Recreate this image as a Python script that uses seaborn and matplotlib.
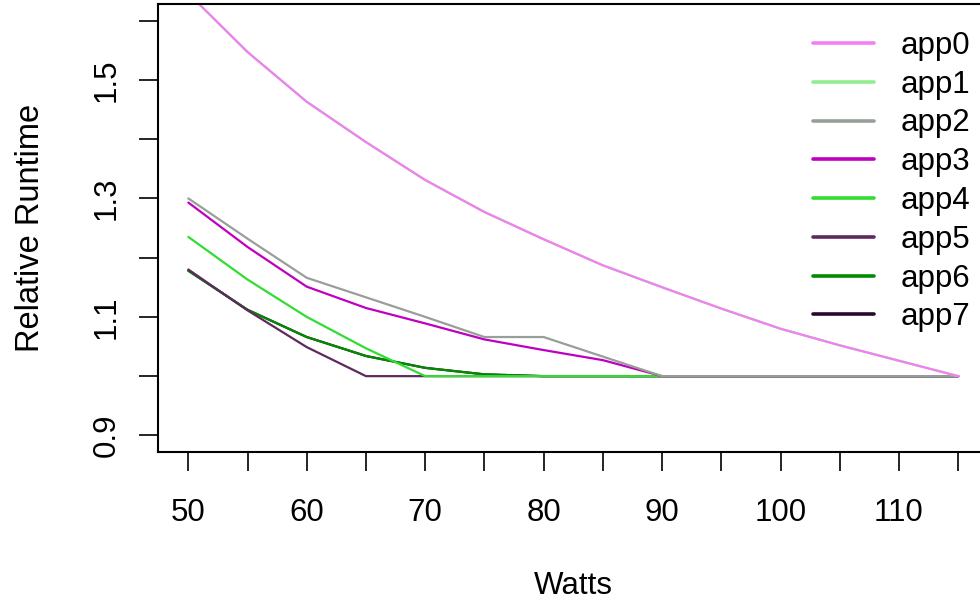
import matplotlib
matplotlib.use("Agg")
import matplotlib.pyplot as plt
from matplotlib.lines import Line2D
import seaborn as sns
import numpy as np

watts = [50, 55, 60, 65, 70, 75, 80, 85, 90, 95, 100, 105, 110, 115]
app0 = [1.646, 1.547, 1.463, 1.395, 1.331, 1.277, 1.231, 1.187, 1.150, 1.114, 1.080, 1.052, 1.026, 1.000]
app1 = [1.646, 1.547, 1.463, 1.395, 1.331, 1.277, 1.231, 1.187, 1.150, 1.114, 1.080, 1.052, 1.026, 1.000]
app2 = [1.300, 1.232, 1.166, 1.133, 1.100, 1.066, 1.066, 1.033, 1.000, 1.000, 1.000, 1.000, 1.000, 1.000]
app3 = [1.293, 1.218, 1.151, 1.115, 1.089, 1.062, 1.044, 1.027, 1.000, 1.000, 1.000, 1.000, 1.000, 1.000]
app4 = [1.235, 1.163, 1.100, 1.047, 1.000, 1.000, 1.000, 1.000, 1.000, 1.000, 1.000, 1.000, 1.000, 1.000]
app5 = [1.180, 1.111, 1.049, 1.000, 1.000, 1.000, 1.000, 1.000, 1.000, 1.000, 1.000, 1.000, 1.000, 1.000]
app6 = [1.178, 1.112, 1.066, 1.034, 1.014, 1.003, 1.000, 1.000, 1.000, 1.000, 1.000, 1.000, 1.000, 1.000]
app7 = [1.178, 1.112, 1.066, 1.034, 1.014, 1.003, 1.000, 1.000, 1.000, 1.000, 1.000, 1.000, 1.000, 1.000]

names = ["app0", "app1", "app2", "app3", "app4", "app5", "app6", "app7"]
series = [app0, app1, app2, app3, app4, app5, app6, app7]
colors = ["#F47EF4", "#90EE90", "#979F97", "#C000C0", "#32DD32", "#5E2A5E", "#008B00", "#2A0A2A"]

y_ticks = [0.9, 1.0, 1.1, 1.2, 1.3, 1.4, 1.5, 1.6]
y_labels = ["0.9", "", "1.1", "", "1.3", "", "1.5", ""]
x_ticks = [50, 55, 60, 65, 70, 75, 80, 85, 90, 95, 100, 105, 110, 115]
x_labels = ["50", "", "60", "", "70", "", "80", "", "90", "", "100", "", "110", ""]

sns.set_style("ticks", {"text.color": "black", "xtick.color": "black", "ytick.color": "black",
                        "axes.labelcolor": "black", "axes.edgecolor": "black"})
plt.rcParams["font.family"] = ["Liberation Sans", "DejaVu Sans"]

W, H = 980, 604
fig = plt.figure(figsize=(W / 100, H / 100), dpi=100)
left, right, top, bottom = 157.5, 989.0, 4.0, 452.0
ax = fig.add_axes([left / W, 1 - bottom / H, (right - left) / W, (bottom - top) / H])

# draw in reverse order (last series first)
for name, vals, col in reversed(list(zip(names, series, colors))):
    sns.lineplot(x=watts, y=vals, color=col, linewidth=1.6, ax=ax, legend=False)

ax.set_xlim(47.4, 117.6)
ax.set_ylim(0.872, 1.628)

fs = 22.5
ax.set_yticks(y_ticks)
ax.set_yticklabels(y_labels, rotation=90, va="center", fontsize=fs)
ax.set_xticks(x_ticks)
ax.set_xticklabels(x_labels, fontsize=fs)
ax.tick_params(axis="both", length=14, width=1.2, color="black", direction="out", labelcolor="black")
ax.tick_params(axis="x", pad=19)
ax.tick_params(axis="y", pad=12)

for s in ax.spines.values():
    s.set_visible(True)
    s.set_linewidth(1.5)
    s.set_color("black")

ax.set_xlabel("")
ax.set_ylabel("")
fig.text((left + right) / 2 / W, 1 - 586 / H, "Watts", ha="center", va="center", fontsize=fs, color="black")
fig.text(31 / W, 1 - 228 / H, "Relative Runtime", ha="center", va="center", rotation=90,
         fontsize=23.5, color="black")

handles = [Line2D([0], [0], color=c, lw=2.6) for c in colors]
leg = ax.legend(handles, names, loc="upper left", bbox_to_anchor=(813 / W, 1 - 31 / H),
                bbox_transform=fig.transFigure, frameon=False, fontsize=fs,
                handlelength=1.95, handletextpad=0.85, labelspacing=0.28,
                borderpad=0, borderaxespad=0)
for t in leg.get_texts():
    t.set_color("black")

fig.savefig("out.png", dpi=100)
